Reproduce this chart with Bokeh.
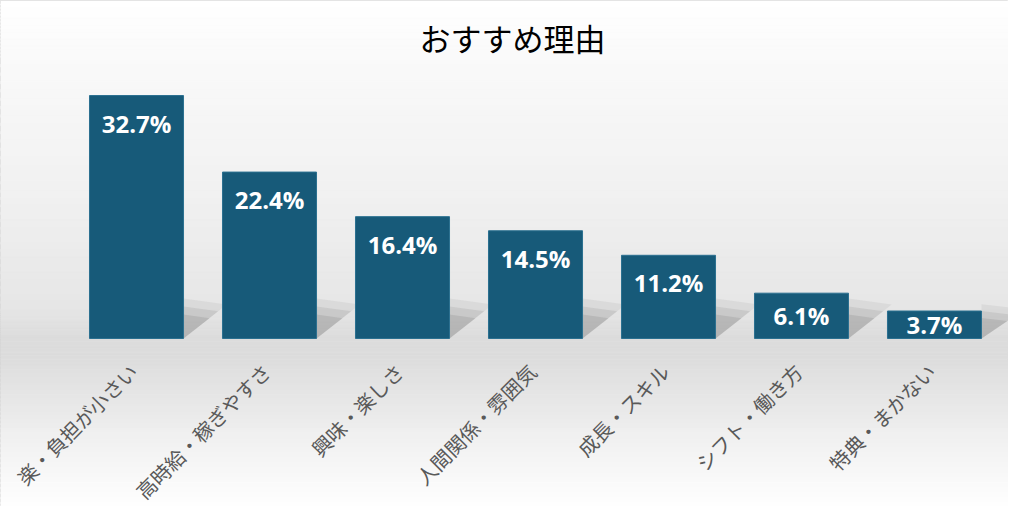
from bokeh.plotting import figure
from bokeh.models import ColumnDataSource, Range1d, Label
from bokeh.core.properties import value
from bokeh.embed import file_html
from bokeh.resources import INLINE
from math import pi

# data
categories = ["楽・負担が小さい", "高時給・稼ぎやすさ", "興味・楽しさ", "人間関係・雰囲気",
              "成長・スキル", "シフト・働き方", "特典・まかない"]
percents = [32.7, 22.4, 16.4, 14.5, 11.2, 6.1, 3.7]
chart_title = "おすすめ理由"

xs = list(range(len(categories)))
bar_w = 0.707

# label sits near the top of the bar, or in the middle of short bars
label_y = [max(v - 3.7, v / 2) for v in percents]
source = ColumnDataSource(dict(
    x=xs, pct=percents, cat=categories, ly=label_y,
    txt=[f"{v:.1f}%" for v in percents],
))

p = figure(width=1008, height=506, output_backend="svg", toolbar_location=None,
           x_range=Range1d(-1.0226, 6.5564), y_range=Range1d(-22.61, 45.49),
           x_axis_location=None, y_axis_location=None, title=None,
           min_border=0, tools="")
p.xgrid.visible = False
p.ygrid.visible = False
p.background_fill_color = "white"
p.border_fill_color = "white"
p.outline_line_color = "#d0d0d0"
p.outline_line_width = 1


def hex2rgb(h):
    return tuple(int(h[i:i + 2], 16) for i in (1, 3, 5))


# background: soft grey floor around the baseline
stops = [(45.5, "#ffffff"), (38.0, "#fafafa"), (20.0, "#f1f1f1"), (4.0, "#e6e6e6"),
         (0.0, "#dcdcdc"), (-3.0, "#dddddd"), (-12.0, "#eeeeee"), (-22.7, "#ffffff")]
tops, bots, cols = [], [], []
for (y0, c0), (y1, c1) in zip(stops[:-1], stops[1:]):
    n = 16
    r0, r1 = hex2rgb(c0), hex2rgb(c1)
    for i in range(n):
        t = (i + 0.5) / n
        rgb = tuple(int(round(a + (b - a) * t)) for a, b in zip(r0, r1))
        tops.append(y0 + (y1 - y0) * i / n)
        bots.append(y0 + (y1 - y0) * (i + 1.3) / n)
        cols.append("#%02x%02x%02x" % rgb)
p.quad(left=-2, right=8, top=tops, bottom=bots, fill_color=cols, line_color=cols,
       line_width=0.5)

# soft cast shadows to the right of each bar
for scale, alpha in [(1.25, 0.10), (1.0, 0.16), (0.75, 0.2)]:
    sh_x, sh_y = [], []
    for x, v in zip(xs, percents):
        xr = x + bar_w / 2
        s = min(v, 4.3) * scale
        sh_x.append([xr, xr, xr + 0.26 * scale])
        sh_y.append([0, s, s * 0.85])
    p.patches(sh_x, sh_y, fill_color="#7a7a7a", fill_alpha=alpha, line_color=None)

# bars
p.vbar(x="x", top="pct", bottom=0, width=bar_w, source=source,
       fill_color="#175a79", line_color="#2b7090", line_width=1)

# value labels
p.text(x="x", y="ly", text="txt", source=source, text_align="center",
       text_baseline="middle", text_color="white", text_font=value("Open Sans"),
       text_font_style="bold", text_font_size="24px")

# category labels, rotated
p.text(x="x", y=0, text="cat", source=source, angle=pi / 4, text_align="right",
       text_baseline="middle", x_offset=-3, y_offset=29, text_color="#595959",
       text_font=value("Noto Sans CJK JP"), text_font_size="20px")

p.add_layout(Label(x=512, y=469, x_units="screen", y_units="screen", text=chart_title,
                   text_align="center", text_baseline="middle", text_color="#000000",
                   text_font="Noto Sans CJK JP", text_font_size="31px"))

open("out.html", "w").write(file_html(p, INLINE))
